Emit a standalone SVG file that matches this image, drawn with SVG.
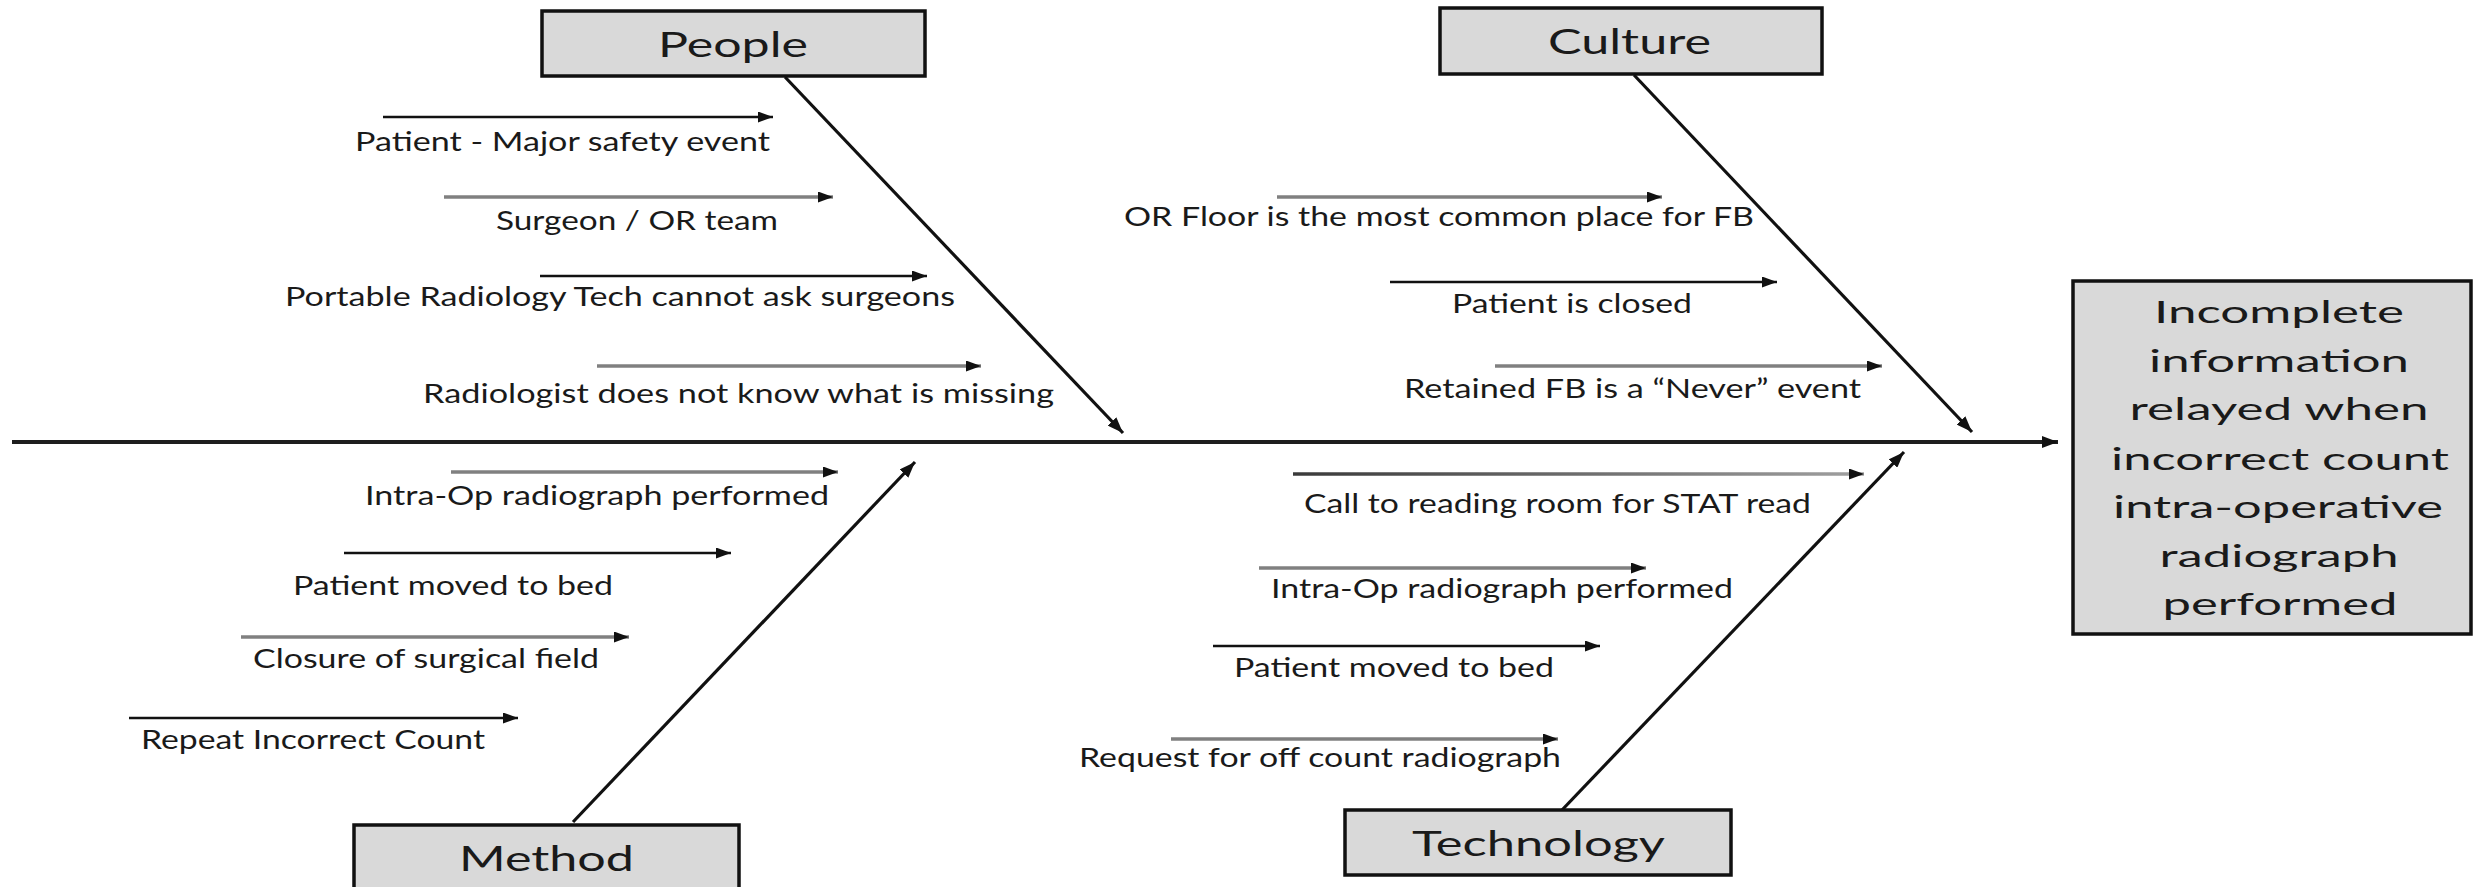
<svg xmlns="http://www.w3.org/2000/svg" width="2474" height="887" viewBox="0 0 2474 887">
<style>
.box{fill:#d9d9d9;stroke:#111;stroke-width:3.5}
.head{font-family:Lato,"Liberation Sans",sans-serif;font-size:35px;fill:#1a1a1a}
.eff{font-family:Lato,"Liberation Sans",sans-serif;font-size:30px;fill:#1a1a1a;text-anchor:middle}
.lbl{font-family:Lato,"Liberation Sans",sans-serif;font-size:26.5px;fill:#1a1a1a}
.axis{stroke:#1e1e1e;stroke-width:4;fill:none}
.bone{stroke:#111;stroke-width:3.2;fill:none}
.blk{stroke:#111;stroke-width:2.5;fill:none}
.gry{stroke:#808080;stroke-width:3.5;fill:none}
</style>
<defs>
<marker id="ah" markerUnits="userSpaceOnUse" markerWidth="16" markerHeight="12" refX="16" refY="6" orient="auto">
<path d="M0,0 L16,6 L0,12 z" fill="#111"/>
</marker>
<marker id="ahs" markerUnits="userSpaceOnUse" markerWidth="15" markerHeight="11" refX="15" refY="5.5" orient="auto">
<path d="M0,0 L15,5.5 L0,11 z" fill="#111"/>
</marker>
<linearGradient id="fade" gradientUnits="userSpaceOnUse" x1="1293" y1="474" x2="1864" y2="474">
<stop offset="0" stop-color="#3a3a3a"/>
<stop offset="1" stop-color="#a0a0a0"/>
</linearGradient>
</defs>
<rect width="2474" height="887" fill="#fff"/>

<g id="connectors">
<line class="axis" x1="12" y1="442" x2="2058" y2="442" marker-end="url(#ah)"/>
<line class="bone" x1="785" y1="77" x2="1123" y2="433" marker-end="url(#ah)"/>
<line class="bone" x1="1634" y1="75" x2="1972" y2="432" marker-end="url(#ah)"/>
<line class="bone" x1="573" y1="822" x2="915" y2="462" marker-end="url(#ah)"/>
<line class="bone" x1="1562" y1="810" x2="1904" y2="452" marker-end="url(#ah)"/>
<!-- People causes -->
<line class="blk" x1="383" y1="117" x2="773" y2="117" marker-end="url(#ahs)"/>
<line class="gry" x1="444" y1="197" x2="833" y2="197" marker-end="url(#ahs)"/>
<line class="blk" x1="540" y1="276" x2="927" y2="276" marker-end="url(#ahs)"/>
<line class="gry" x1="597" y1="366" x2="981" y2="366" marker-end="url(#ahs)"/>
<!-- Culture causes -->
<line class="gry" x1="1277" y1="197" x2="1662" y2="197" marker-end="url(#ahs)"/>
<line class="blk" x1="1390" y1="282" x2="1777" y2="282" marker-end="url(#ahs)"/>
<line class="gry" x1="1495" y1="366" x2="1882" y2="366" marker-end="url(#ahs)"/>
<!-- Method causes -->
<line class="gry" x1="451" y1="472" x2="838" y2="472" marker-end="url(#ahs)"/>
<line class="blk" x1="344" y1="553" x2="731" y2="553" marker-end="url(#ahs)"/>
<line class="gry" x1="241" y1="637" x2="629" y2="637" marker-end="url(#ahs)"/>
<line class="blk" x1="129" y1="718" x2="518" y2="718" marker-end="url(#ahs)"/>
<!-- Technology causes -->
<line x1="1293" y1="474" x2="1864" y2="474" stroke="url(#fade)" stroke-width="3.5" marker-end="url(#ahs)"/>
<line class="gry" x1="1259" y1="568" x2="1646" y2="568" marker-end="url(#ahs)"/>
<line class="blk" x1="1213" y1="646" x2="1600" y2="646" marker-end="url(#ahs)"/>
<line class="gry" x1="1171" y1="739" x2="1558" y2="739" marker-end="url(#ahs)"/>
</g>

<g id="people">
<rect class="box" x="542" y="11" width="383" height="65"/>
<text class="head" x="658" y="57" textLength="150" lengthAdjust="spacingAndGlyphs">People</text>
</g>
<g id="culture">
<rect class="box" x="1440" y="8" width="382" height="66"/>
<text class="head" x="1548" y="54" textLength="163" lengthAdjust="spacingAndGlyphs">Culture</text>
</g>
<g id="method">
<rect class="box" x="354" y="825" width="385" height="80"/>
<text class="head" x="459" y="871" textLength="175" lengthAdjust="spacingAndGlyphs">Method</text>
</g>
<g id="technology">
<rect class="box" x="1345" y="810" width="386" height="65"/>
<text class="head" x="1412" y="856" textLength="253" lengthAdjust="spacingAndGlyphs">Technology</text>
</g>
<g id="effect">
<rect class="box" x="2073" y="281" width="398" height="353"/>
<text class="eff" x="2279" y="323" textLength="250" lengthAdjust="spacingAndGlyphs">Incomplete</text>
<text class="eff" x="2279" y="372" textLength="260" lengthAdjust="spacingAndGlyphs">information</text>
<text class="eff" x="2279" y="420" textLength="299" lengthAdjust="spacingAndGlyphs">relayed when</text>
<text class="eff" x="2280" y="470" textLength="338" lengthAdjust="spacingAndGlyphs">incorrect count</text>
<text class="eff" x="2278" y="518" textLength="330" lengthAdjust="spacingAndGlyphs">intra-operative</text>
<text class="eff" x="2279" y="567" textLength="239" lengthAdjust="spacingAndGlyphs">radiograph</text>
<text class="eff" x="2280" y="615" textLength="235" lengthAdjust="spacingAndGlyphs">performed</text>
</g>

<g id="people-causes">
<text id="p1" class="lbl" x="355" y="151" textLength="415" lengthAdjust="spacingAndGlyphs">Patient - Major safety event</text>
<text id="p2" class="lbl" x="496" y="230" textLength="282" lengthAdjust="spacingAndGlyphs">Surgeon / OR team</text>
<text id="p3" class="lbl" x="285" y="306" textLength="670" lengthAdjust="spacingAndGlyphs">Portable Radiology Tech cannot ask surgeons</text>
<text id="p4" class="lbl" x="423" y="403" textLength="631" lengthAdjust="spacingAndGlyphs">Radiologist does not know what is missing</text>
</g>
<g id="culture-causes">
<text id="c1" class="lbl" x="1124" y="226" textLength="630" lengthAdjust="spacingAndGlyphs">OR Floor is the most common place for FB</text>
<text id="c2" class="lbl" x="1452" y="313" textLength="240" lengthAdjust="spacingAndGlyphs">Patient is closed</text>
<text id="c3" class="lbl" x="1404" y="398" textLength="457" lengthAdjust="spacingAndGlyphs">Retained FB is a “Never” event</text>
</g>
<g id="method-causes">
<text id="m1" class="lbl" x="365" y="505" textLength="464" lengthAdjust="spacingAndGlyphs">Intra-Op radiograph performed</text>
<text id="m2" class="lbl" x="293" y="595" textLength="320" lengthAdjust="spacingAndGlyphs">Patient moved to bed</text>
<text id="m3" class="lbl" x="253" y="668" textLength="346" lengthAdjust="spacingAndGlyphs">Closure of surgical field</text>
<text id="m4" class="lbl" x="141" y="749" textLength="344" lengthAdjust="spacingAndGlyphs">Repeat Incorrect Count</text>
</g>
<g id="technology-causes">
<text id="t1" class="lbl" x="1304" y="513" textLength="507" lengthAdjust="spacingAndGlyphs">Call to reading room for STAT read</text>
<text id="t2" class="lbl" x="1271" y="598" textLength="462" lengthAdjust="spacingAndGlyphs">Intra-Op radiograph performed</text>
<text id="t3" class="lbl" x="1234" y="677" textLength="320" lengthAdjust="spacingAndGlyphs">Patient moved to bed</text>
<text id="t4" class="lbl" x="1079" y="767" textLength="482" lengthAdjust="spacingAndGlyphs">Request for off count radiograph</text>
</g>
</svg>
